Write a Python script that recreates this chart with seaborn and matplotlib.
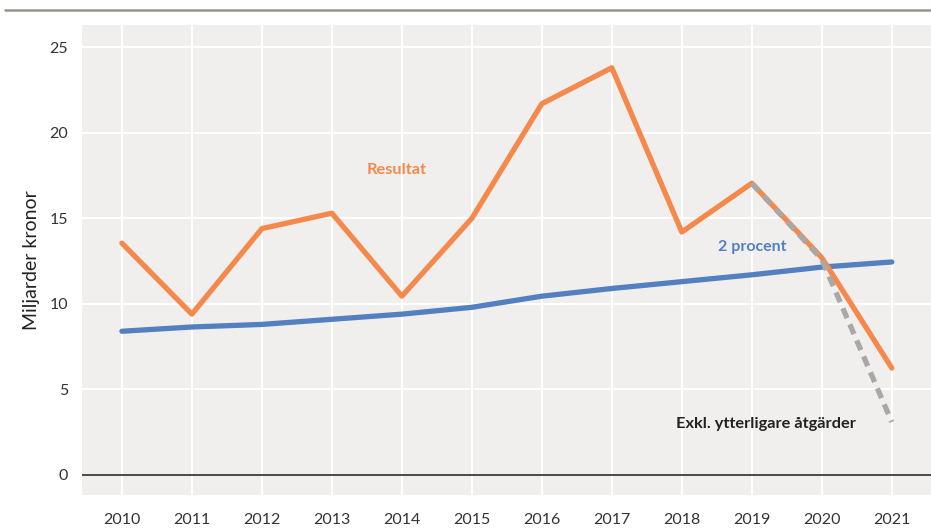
import pandas as pd
import matplotlib.pyplot as plt
import seaborn as sns
from matplotlib.lines import Line2D

# Data (miljarder kronor)
years = [2010, 2011, 2012, 2013, 2014, 2015, 2016, 2017, 2018, 2019, 2020, 2021]
resultat = [13.55, 9.4, 14.4, 15.3, 10.45, 15.0, 21.7, 23.8, 14.2, 17.05, 12.7, 6.25]
tva_procent = [8.4, 8.65, 8.8, 9.1, 9.4, 9.8, 10.45, 10.9, 11.3, 11.7, 12.15, 12.45]
exkl_years = [2019, 2020, 2021]
exkl = [17.05, 12.6, 3.1]
yticks = [0, 5, 10, 15, 20, 25]

df = pd.DataFrame({'year': years, 'Resultat': resultat, '2 procent': tva_procent})
df_exkl = pd.DataFrame({'year': exkl_years, 'value': exkl})

sns.set_style('white')
plt.rcParams['font.family'] = ['Lato', 'DejaVu Sans']

orange = '#f5894c'
blue = '#5480c0'
grey = '#aaa7a4'

fig = plt.figure(figsize=(9.31, 5.32), dpi=100)
ax = fig.add_axes([82 / 931, 1 - 495 / 532, 1 - 82 / 931, (495 - 25) / 532])
ax.set_facecolor('#f0efee')

# Lines
sns.lineplot(data=df, x='year', y='2 procent', ax=ax, color=blue, linewidth=3.8)
sns.lineplot(data=df, x='year', y='Resultat', ax=ax, color=orange, linewidth=3.8)
sns.lineplot(data=df_exkl, x='year', y='value', ax=ax, color=grey, linewidth=3.8)
ax.lines[-1].set_dashes((2.0, 1.3))
ax.lines[-1].set_dash_capstyle('butt')

ax.axhline(0, color='#3a3a3a', linewidth=1.3, zorder=1)

ax.set_xlim(2009.43, 2021.56)
ax.set_ylim(-1.17, 26.3)
ax.set_xticks(years)
ax.set_yticks(yticks)
ax.grid(True, color='white', linewidth=1.5)
ax.set_axisbelow(True)
for s in ax.spines.values():
    s.set_visible(False)
ax.tick_params(length=0, labelsize=11.5, colors='#333333')
ax.tick_params(axis='x', pad=13)
ax.tick_params(axis='y', pad=10)
ax.set_xlabel('')
ax.set_ylabel('Miljarder kronor', fontsize=14, color='#222222', labelpad=7)

# Direct labels
ax.text(2013.93, 17.85, 'Resultat', color=orange, fontsize=11.8, fontweight='bold',
        ha='center', va='center')
ax.text(2019.0, 13.3, '2 procent', color=blue, fontsize=11.5, fontweight='bold',
        ha='center', va='center')
ax.text(2019.2, 2.98, 'Exkl. ytterligare åtgärder', color='#222222', fontsize=11.8,
        fontweight='bold', ha='center', va='center')

# Rule at the top of the figure
fig.add_artist(Line2D([5 / 931, 1], [1 - 10 / 532, 1 - 10 / 532],
                      color='#9b948c', linewidth=1.8))

fig.savefig('out.png', dpi=100)
